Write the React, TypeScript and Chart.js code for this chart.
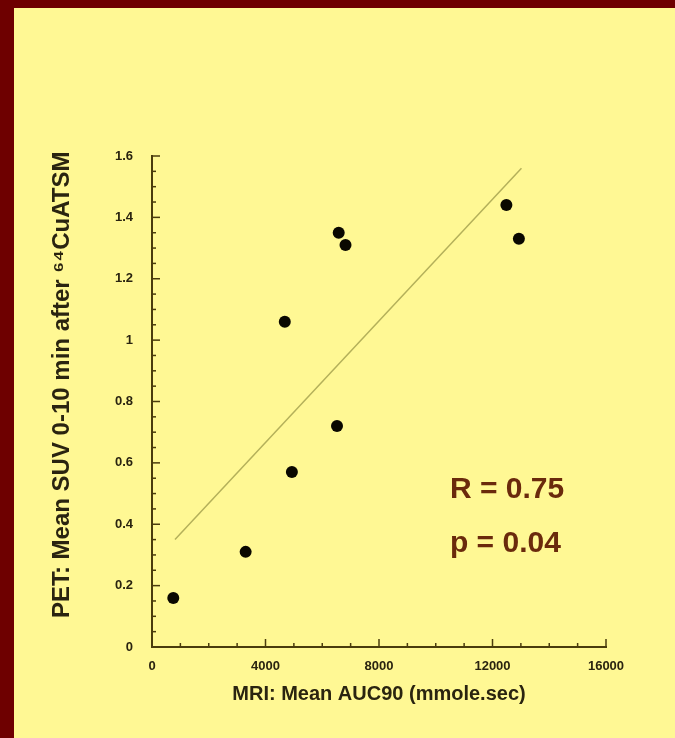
import React, { useEffect, useRef } from "react";
import { Chart, registerables } from "chart.js";

Chart.register(...registerables);

// ---- data ----
const mriAuc90 = [750, 3300, 4680, 4930, 6520, 6580, 6820, 12490, 12930];
const petSuv = [0.16, 0.31, 1.06, 0.57, 0.72, 1.35, 1.31, 1.44, 1.33];
const fitX = [810, 13020];
const fitY = [0.35, 1.56];
const xTicks = [0, 4000, 8000, 12000, 16000];
const yTickLabels = ["0", "0.2", "0.4", "0.6", "0.8", "1", "1.2", "1.4", "1.6"];
const statLines = ["R = 0.75", "p = 0.04"];
const statX = 10500;
const statY = [0.485, 0.31];

const AXIS = "#4a3c0c";
const BG = "#fff894";
const FONT = "'Liberation Sans', Arial, sans-serif";

const insideTicks = {
  id: "insideTicks",
  afterDatasetsDraw(chart: any) {
    const { ctx, scales } = chart;
    const xs = scales.x;
    const ys = scales.y;
    const x0 = xs.getPixelForValue(0);
    const y0 = ys.getPixelForValue(0);
    ctx.save();
    ctx.strokeStyle = AXIS;
    ctx.lineWidth = 1.5;
    for (let v = 1000; v <= 16000; v += 1000) {
      const px = xs.getPixelForValue(v);
      const len = v % 4000 === 0 ? 8 : 4;
      ctx.beginPath();
      ctx.moveTo(px, y0);
      ctx.lineTo(px, y0 - len);
      ctx.stroke();
    }
    for (let i = 1; i <= 32; i++) {
      const py = ys.getPixelForValue(i * 0.05);
      const len = i % 4 === 0 ? 8 : 4;
      ctx.beginPath();
      ctx.moveTo(x0, py);
      ctx.lineTo(x0 + len, py);
      ctx.stroke();
    }
    // stats text
    ctx.fillStyle = "#6a2a0c";
    ctx.font = "bold 30px " + FONT;
    ctx.textAlign = "left";
    ctx.textBaseline = "alphabetic";
    statLines.forEach((t, i) => {
      ctx.fillText(t, xs.getPixelForValue(statX), ys.getPixelForValue(statY[i]));
    });
    ctx.restore();
  },
};

export default function App() {
  const ref = useRef<HTMLCanvasElement>(null);
  useEffect(() => {
    if (!ref.current) return;
    const chart = new Chart(ref.current, {
      type: "scatter",
      data: {
        datasets: [
          {
            type: "line",
            data: fitX.map((x, i) => ({ x, y: fitY[i] })),
            borderColor: "#b4b05a",
            borderWidth: 1.5,
            pointRadius: 0,
            fill: false,
          } as any,
          {
            data: mriAuc90.map((x, i) => ({ x, y: petSuv[i] })),
            backgroundColor: "#0a0800",
            borderColor: "#0a0800",
            pointRadius: 6,
            borderWidth: 0,
          },
        ],
      },
      plugins: [insideTicks],
      options: {
        responsive: false,
        animation: false,
        layout: { padding: { top: 148, right: 69, left: 0, bottom: 0 } },
        plugins: { legend: { display: false }, tooltip: { enabled: false } },
        scales: {
          x: {
            type: "linear",
            min: 0,
            max: 16000,
            afterFit: (s: any) => {
              s.height = 91;
            },
            afterBuildTicks: (s: any) => {
              s.ticks = xTicks.map((v) => ({ value: v }));
            },
            grid: { display: false },
            border: { display: true, color: AXIS, width: 2 },
            ticks: {
              color: "#2a2410",
              padding: 4,
              font: { family: FONT, size: 13, weight: "bold" },
              callback: (v: any) => String(v),
            },
            title: {
              display: true,
              text: "MRI: Mean AUC90 (mmole.sec)",
              color: "#2a2410",
              font: { family: FONT, size: 20, weight: "bold" },
              padding: { top: 0, bottom: 32 },
            },
          },
          y: {
            type: "linear",
            min: 0,
            max: 1.6,
            afterFit: (s: any) => {
              s.width = 138;
            },
            afterBuildTicks: (s: any) => {
              s.ticks = yTickLabels.map((t) => ({ value: parseFloat(t) }));
            },
            grid: { display: false },
            border: { display: true, color: AXIS, width: 2 },
            ticks: {
              color: "#2a2410",
              padding: 11,
              font: { family: FONT, size: 13, weight: "bold" },
              callback: (v: any, i: number) => yTickLabels[i],
            },
            title: {
              display: true,
              text: "     PET: Mean SUV 0-10 min after \u2076\u2074CuATSM",
              color: "#2a2410",
              font: { family: FONT, size: 24, weight: "bold" },
              padding: { top: 34, bottom: 0 },
            },
          },
        },
      },
    });
    return () => chart.destroy();
  }, []);
  return (
    <div style={{ position: "absolute", left: 0, top: 0, width: 675, height: 738, background: "#6e0000", overflow: "hidden" }}>
      <div style={{ position: "absolute", left: 14, top: 8, width: 661, height: 730, background: BG }}>
        <canvas ref={ref} width={661} height={730} style={{ display: "block", width: 661, height: 730 }} />
      </div>
    </div>
  );
}
